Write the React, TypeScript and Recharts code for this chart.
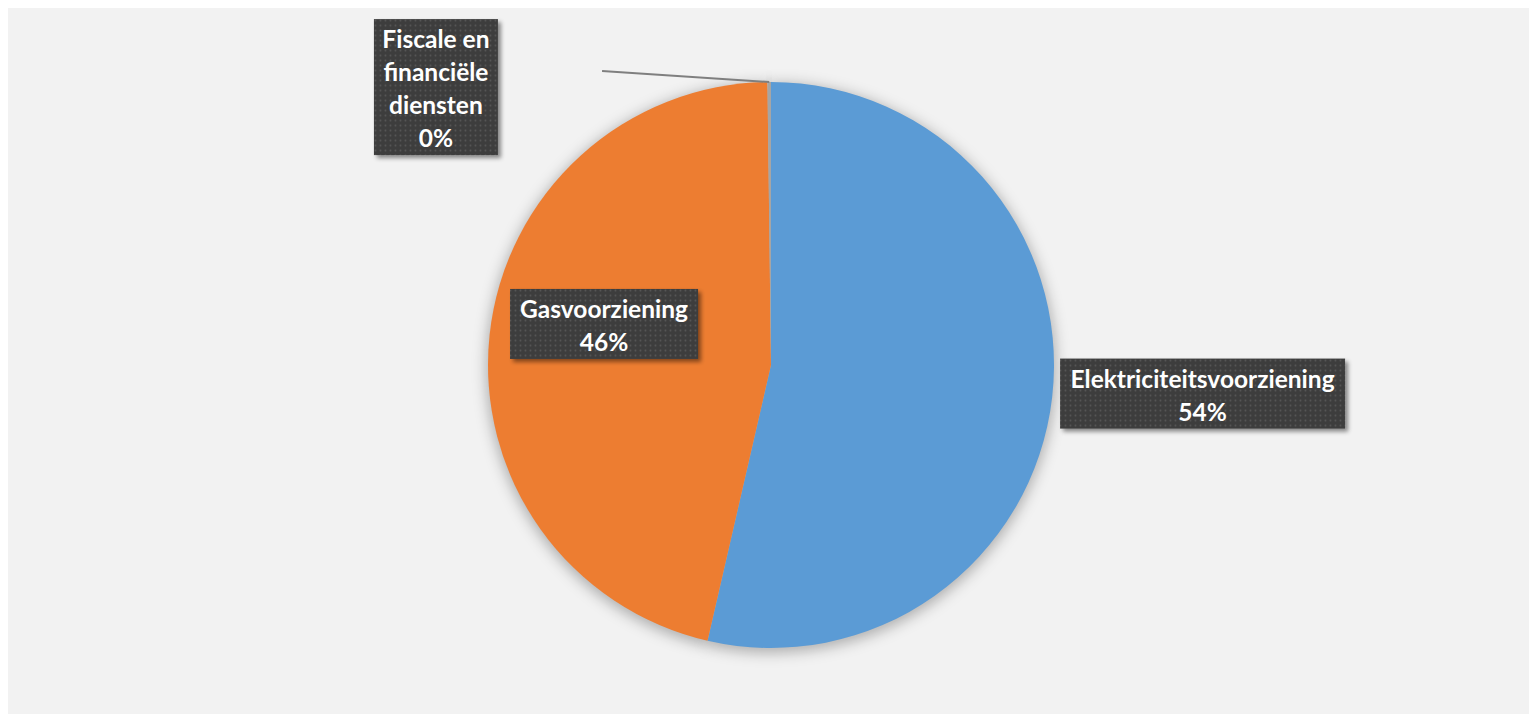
import React from "react";
import { PieChart, Pie, Cell } from "recharts";

const categories = ["Elektriciteitsvoorziening", "Gasvoorziening", "Fiscale en financiële diensten"];
const shares = [53.6, 46.2, 0.2];
const colors = ["#5b9bd5", "#ed7d31", "#a5a5a5"];

const data = categories.map((name, i) => ({ name, value: shares[i] }));

// label box placement, relative to centre in units of the outer radius
const labelLayout = [
  { dx: 1.525, dy: 0.101, w: 285, wrap: 40, leader: false },
  { dx: -0.59, dy: -0.145, w: 188, wrap: 40, leader: false },
  { dx: -1.184, dy: -0.982, w: 124, wrap: 10, leader: true, lx: -0.597, ly: -1.039 },
];

const W = 1529;
const H = 706;
const CX = 763;
const CY = 357;
const R = 283;
const LINE_H = 33;

function wrapText(text: string, max: number): string[] {
  const words = text.split(" ");
  const lines: string[] = [];
  let cur = "";
  for (const w of words) {
    const t = cur ? cur + " " + w : w;
    if (t.length > max && cur) {
      lines.push(cur);
      cur = w;
    } else cur = t;
  }
  if (cur) lines.push(cur);
  return lines;
}

const renderLabel = (props: any) => {
  const { cx, cy, outerRadius, midAngle, index, percent, name } = props;
  const L = labelLayout[index];
  const lines = [...wrapText(name, L.wrap), `${Math.round(percent * 100)}%`];
  const h = lines.length * LINE_H + 4;
  const bx = cx + L.dx * outerRadius - L.w / 2;
  const by = cy + L.dy * outerRadius - h / 2;
  const RAD = Math.PI / 180;
  const ex = cx + outerRadius * Math.cos(-midAngle * RAD);
  const ey = cy + outerRadius * Math.sin(-midAngle * RAD);
  return (
    <g key={`lbl-${index}`}>
      {L.leader && (
        <line
          x1={cx + (L.lx as number) * outerRadius}
          y1={cy + (L.ly as number) * outerRadius}
          x2={ex}
          y2={ey}
          stroke="#7f7f7f"
          strokeWidth={2}
        />
      )}
      <rect x={bx} y={by} width={L.w} height={h} fill="url(#dots)" filter="url(#boxShadow)" />
      {lines.map((ln, i) => (
        <text
          key={i}
          x={bx + L.w / 2}
          y={by + 29 + i * LINE_H}
          textAnchor="middle"
          fill="#ffffff"
          fontFamily="Lato, 'Open Sans', sans-serif"
          fontWeight={700}
          fontSize={24.5}
        >
          {ln}
        </text>
      ))}
    </g>
  );
};

export default function App() {
  return (
    <div style={{ width: W, height: H, background: "#f2f2f2" }}>
      <PieChart width={W} height={H} margin={{ top: 0, right: 0, bottom: 0, left: 0 }}>
        <defs>
          <pattern id="dots" width={5} height={5} patternUnits="userSpaceOnUse">
            <rect width={5} height={5} fill="#3e3e3e" />
            <circle cx={2.5} cy={2.5} r={0.9} fill="#555555" />
          </pattern>
          <filter id="boxShadow" x="-20%" y="-20%" width="140%" height="140%">
            <feDropShadow dx={3} dy={3} stdDeviation={2} floodColor="#000" floodOpacity={0.45} />
          </filter>
          <filter id="pieBlur" x="-20%" y="-20%" width="140%" height="140%">
            <feGaussianBlur stdDeviation={7} />
          </filter>
        </defs>
        <Pie
          data={data}
          dataKey="value"
          nameKey="name"
          cx={CX}
          cy={CY + 3}
          outerRadius={R + 2}
          startAngle={90}
          endAngle={-270}
          stroke="none"
          fill="#000"
          fillOpacity={0.28}
          isAnimationActive={false}
          label={false}
          labelLine={false}
        >
          {data.map((d, i) => (
            <Cell key={i} fill="#000" fillOpacity={0.28} style={{ filter: "url(#pieBlur)" }} />
          ))}
        </Pie>
        <Pie
          data={data}
          dataKey="value"
          nameKey="name"
          cx={CX}
          cy={CY}
          outerRadius={R}
          startAngle={90}
          endAngle={-270}
          stroke="none"
          isAnimationActive={false}
          label={renderLabel}
          labelLine={false}
        >
          {data.map((d, i) => (
            <Cell key={i} fill={colors[i]} />
          ))}
        </Pie>
      </PieChart>
    </div>
  );
}
